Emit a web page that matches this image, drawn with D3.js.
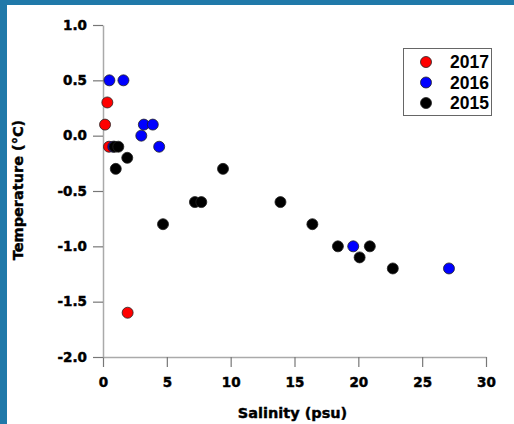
<!DOCTYPE html>
<html>
<head>
<meta charset="utf-8">
<script src="https://cdn.jsdelivr.net/npm/d3@7"></script>
<style>
  html, body { margin: 0; padding: 0; background: #fff; }
  svg { display: block; }
</style>
</head>
<body>
<script>
// Salinity (psu) and temperature (°C) samples, one pair of arrays per year
const years = ["2017", "2016", "2015"];
const yearColors = ["#ff0000", "#0000ff", "#000000"];

const salinity2017 = [0.34, 0.16, 0.47, 1.93];
const temperature2017 = [0.3, 0.1, -0.1, -1.6];

const salinity2016 = [0.5, 1.6, 3.2, 3.9, 3.0, 4.4, 0.8, 19.6, 27.1];
const temperature2016 = [0.5, 0.5, 0.1, 0.1, 0.0, -0.1, -0.1, -1.0, -1.2];

const salinity2015 = [0.9, 1.2, 1.0, 1.9, 4.7, 7.2, 7.7, 9.4, 13.9, 16.4, 18.4, 20.9, 20.1, 22.7];
const temperature2015 = [-0.1, -0.1, -0.3, -0.2, -0.8, -0.6, -0.6, -0.3, -0.6, -0.8, -1.0, -1.0, -1.1, -1.2];

const xTicks = [0, 5, 10, 15, 20, 25, 30];
const yTicks = [1.0, 0.5, 0.0, -0.5, -1.0, -1.5, -2.0];

const W = 514, H = 424;
const svg = d3.select("body").append("svg").attr("width", W).attr("height", H);

// frame strips along the top and left edges
svg.append("rect").attr("x", 0).attr("y", 0).attr("width", W).attr("height", 5).attr("fill", "#2079a9");
svg.append("rect").attr("x", 0).attr("y", 0).attr("width", 7).attr("height", H).attr("fill", "#2079a9");

const x = d3.scaleLinear().domain([0, 30]).range([103, 486]);
const y = d3.scaleLinear().domain([-2, 1]).range([357, 25]);

const fmt = d => d.toFixed(1);

const xAxis = svg.append("g")
  .attr("transform", `translate(0,${y(-2)})`)
  .call(d3.axisBottom(x).tickValues(xTicks).tickSize(10).tickSizeOuter(0).tickPadding(10).tickFormat(d3.format("d")));

const yAxis = svg.append("g")
  .attr("transform", `translate(${x(0)},0)`)
  .call(d3.axisLeft(y).tickValues(yTicks).tickSize(10).tickSizeOuter(0).tickPadding(6).tickFormat(fmt));

[xAxis, yAxis].forEach(g => {
  g.select(".domain").attr("stroke", "#aaaaaa").attr("stroke-width", 1.5);
  g.selectAll(".tick line").attr("stroke", "#777777").attr("stroke-width", 1.2);
  g.selectAll(".tick text")
    .attr("fill", "#000")
    .attr("stroke", "#000")
    .attr("stroke-width", 0.45)
    .style("font-family", "'DejaVu Sans', sans-serif")
    .style("font-weight", "bold")
    .style("font-size", "13.5px");
});

// axis titles
svg.append("text")
  .attr("x", (x(0) + x(30)) / 2 - 2)
  .attr("y", 418)
  .attr("text-anchor", "middle")
  .attr("stroke", "#000").attr("stroke-width", 0.4)
  .style("font-family", "'DejaVu Sans', sans-serif")
  .style("font-weight", "bold")
  .style("font-size", "14.5px")
  .text("Salinity (psu)");

svg.append("text")
  .attr("transform", "translate(23,190) rotate(-90)")
  .attr("text-anchor", "middle")
  .attr("stroke", "#000").attr("stroke-width", 0.4)
  .style("font-family", "'DejaVu Sans', sans-serif")
  .style("font-weight", "bold")
  .style("font-size", "14.5px")
  .text("Temperature (°C)");

// points, 2017 first so that 2015 sits on top where they overlap
const series = [
  { sal: salinity2017, temp: temperature2017 },
  { sal: salinity2016, temp: temperature2016 },
  { sal: salinity2015, temp: temperature2015 }
];

series.forEach((s, i) => {
  const pts = s.sal.map((v, j) => [v, s.temp[j]]);
  svg.append("g").selectAll("circle")
    .data(pts)
    .join("circle")
    .attr("cx", d => x(d[0]))
    .attr("cy", d => y(d[1]))
    .attr("r", 5.5)
    .attr("fill", yearColors[i])
    .attr("stroke", "#222")
    .attr("stroke-width", 0.8);
});

// legend
const legend = svg.append("g");
legend.append("rect")
  .attr("x", 403.5).attr("y", 48.5).attr("width", 88).attr("height", 67)
  .attr("fill", "#fff").attr("stroke", "#666").attr("stroke-width", 1);

years.forEach((yr, i) => {
  const cy = 62 + i * 20.5;
  legend.append("circle")
    .attr("cx", 426).attr("cy", cy).attr("r", 5.5)
    .attr("fill", yearColors[i]).attr("stroke", "#222").attr("stroke-width", 0.8);
  legend.append("text")
    .attr("x", 450).attr("y", cy + 6.3)
    .style("font-family", "'Liberation Sans', Arial, sans-serif")
    .style("font-weight", "bold")
    .style("font-size", "17.5px")
    .text(yr);
});
</script>
</body>
</html>
